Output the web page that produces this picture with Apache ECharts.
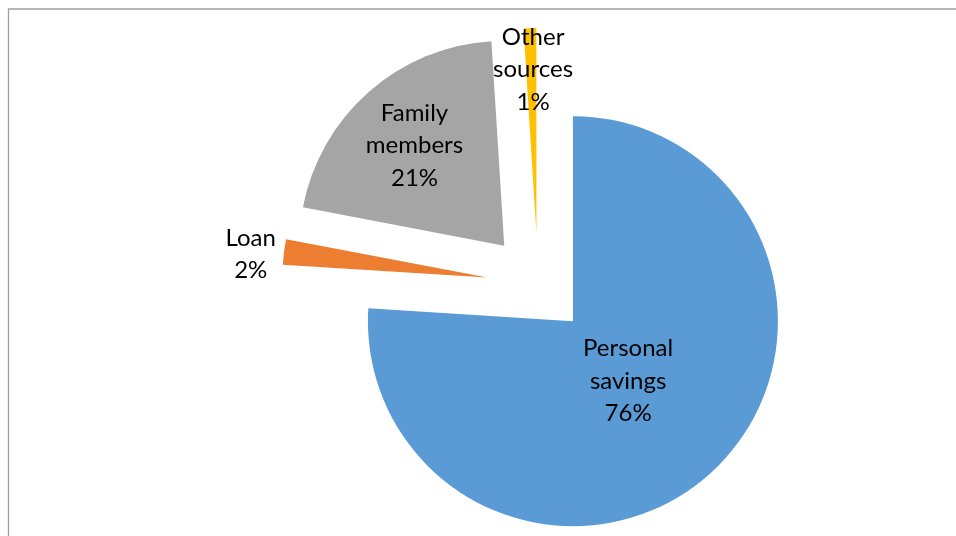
<!DOCTYPE html>
<html>
<head>
<meta charset="utf-8">
<script src="https://cdn.jsdelivr.net/npm/echarts@6/dist/echarts.min.js"></script>
<style>
html,body{margin:0;padding:0;background:#fff;}
#chart{width:956px;height:536px;}
</style>
</head>
<body>
<div id="chart"></div>
<script>
const categories = ['Personal savings', 'Loan', 'Family members', 'Other sources'];
const values = [76, 2, 21, 1];
const colors = ['#5B9BD5', '#ED7D31', '#A5A5A5', '#FFC000'];
// label nudges (px) from the default inside position
const labelShiftX = [-17, -132, -20, 0];
const labelShiftY = [-17, -10, -21, -58];

const chart = echarts.init(document.getElementById('chart'), null, {renderer: 'canvas'});
chart.setOption({
  animation: false,
  backgroundColor: '#ffffff',
  graphic: [{
    type: 'rect',
    shape: {x: 8.5, y: 9, width: 1000, height: 600},
    style: {fill: 'none', stroke: '#A0A0A0', lineWidth: 1.3},
    silent: true
  }],
  series: [{
    type: 'pie',
    center: [538, 284],
    radius: [0, 205],
    startAngle: 90,
    clockwise: true,
    selectedMode: 'multiple',
    selectedOffset: 51,
    avoidLabelOverlap: false,
    emphasis: {disabled: true},
    itemStyle: {borderWidth: 0},
    label: {
      show: true,
      position: 'inside',
      color: '#000',
      fontFamily: 'Lato',
      fontSize: 24,
      lineHeight: 32.5,
      align: 'center',
      formatter: function (p) { return p.name.replace(' ', '\n') + '\n' + p.value + '%'; }
    },
    labelLine: {show: false},
    labelLayout: function (p) {
      return {dx: labelShiftX[p.dataIndex], dy: labelShiftY[p.dataIndex]};
    },
    data: categories.map(function (c, i) {
      return {name: c, value: values[i], selected: true, itemStyle: {color: colors[i]}};
    })
  }]
});
</script>
</body>
</html>
